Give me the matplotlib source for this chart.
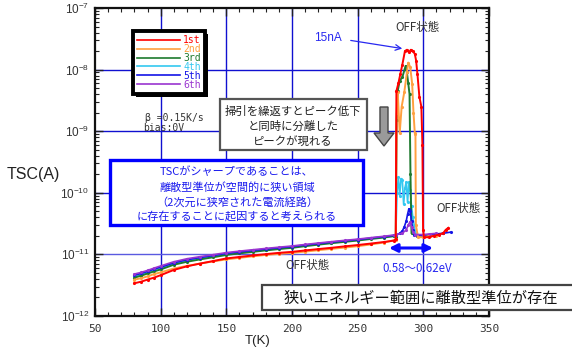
import numpy as np
import matplotlib
matplotlib.use("Agg")
import matplotlib.pyplot as plt
import matplotlib.patches as mpatches
from matplotlib.lines import Line2D

plt.rcParams['font.family'] = ['Liberation Sans', 'Noto Sans CJK JP', 'DejaVu Sans']
JP = ['Noto Sans CJK JP', 'DejaVu Sans']
MONO = ['DejaVu Sans Mono']

# ---- data (temperature in K, current in pA) ----
t_base = [80, 85, 90, 95, 100, 110, 120, 130, 140, 150, 160, 170, 180, 190,
          200, 210, 220, 230, 240, 250, 260, 270, 278]

base_1st = [3.4, 3.6, 3.9, 4.2, 4.6, 5.6, 6.4, 7.1, 7.8, 8.6, 9.1, 9.6, 10.1, 10.6,
            11.0, 11.6, 12.2, 12.8, 13.5, 14.2, 15.0, 15.9, 16.8]
base_2nd = [3.9, 4.1, 4.4, 4.8, 5.1, 5.9, 6.5, 7.1, 7.7, 8.3, 8.8, 9.3, 9.8, 10.2,
            10.6, 11.1, 11.7, 12.3, 12.9, 13.6, 14.5, 15.6, 17.0]
base_3rd = [4.2, 4.5, 4.9, 5.3, 5.7, 6.8, 7.6, 8.3, 9.0, 9.8, 10.4, 11.0, 11.6, 12.2,
            12.8, 13.6, 14.4, 15.2, 16.0, 16.8, 17.8, 18.8, 19.8]
base_4th = [4.4, 4.7, 5.1, 5.6, 6.0, 7.1, 8.0, 8.7, 9.4, 10.2, 10.8, 11.4, 12.0, 12.6,
            13.2, 14.0, 14.8, 15.6, 16.4, 17.2, 18.2, 19.2, 20.2]
base_5th = [4.6, 4.9, 5.3, 5.8, 6.2, 7.3, 8.2, 8.9, 9.6, 10.4, 11.0, 11.6, 12.2, 12.8,
            13.4, 14.2, 15.0, 15.8, 16.6, 17.4, 18.4, 19.4, 20.4]
base_6th = [4.8, 5.1, 5.5, 6.0, 6.5, 7.6, 8.5, 9.2, 9.9, 10.7, 11.3, 11.9, 12.5, 13.1,
            13.7, 14.5, 15.3, 16.1, 16.9, 17.7, 18.7, 19.7, 20.7]

peak_t_1st = [279, 279.5, 281, 282.5, 284, 286, 287.5, 289, 290.5, 292, 293.5, 294.5,
              295.5, 297, 298.5, 299.3, 299.8, 300.5, 304, 308, 312, 315, 317, 319]
peak_i_1st = [18, 4500, 6000, 8500, 12000, 20000, 21000, 19000, 21000, 20000, 18000, 14000,
              8500, 3600, 2500, 600, 25, 19, 19, 20, 21, 22, 25, 27]

peak_t_2nd = [279, 279.7, 280.5, 282, 283.5, 285.5, 287.5, 288.5, 290, 291.5, 292.5, 293.5,
              294, 294.3, 296, 300, 305, 310]
peak_i_2nd = [17, 2000, 4300, 930, 2500, 4300, 9000, 13000, 11000, 5900, 2000, 930,
              900, 30, 19, 19, 20, 20]

peak_t_3rd = [279, 279.7, 280.5, 282, 284, 286.5, 287.5, 288.5, 289.5, 290.2, 291, 295,
              300, 305, 310]
peak_i_3rd = [19.5, 1500, 4500, 6600, 7500, 11500, 9000, 6000, 4000, 200, 22, 20,
              20, 21, 21]

peak_t_4th = [279, 280, 281, 282, 283, 284, 285, 286, 287, 288, 289, 290, 291, 292, 293,
              294, 296, 300, 305, 310, 315]
peak_i_4th = [20, 100, 180, 90, 170, 160, 65, 120, 150, 70, 150, 110, 60, 40, 30,
              22, 20, 20, 21, 21, 22]

peak_t_5th = [279, 282, 284, 285.5, 287, 288, 289, 290, 291, 292, 293, 296, 300, 305,
              310, 315, 321]
peak_i_5th = [20.5, 22, 24, 28, 35, 45, 55, 50, 35, 25, 21, 20.5, 20.5, 21,
              21.5, 22, 23]

peak_t_6th = [279, 284, 287, 288.5, 290, 291, 292, 294, 300, 305, 310]
peak_i_6th = [21, 22, 25, 30, 34, 28, 23, 21, 21, 21.5, 22]

labels = ['1st', '2nd', '3rd', '4th', '5th', '6th']
colors = ['#ff0000', '#ffa040', '#1e7a2e', '#33c8f0', '#1414e6', '#9a35d0']

bases = [base_1st, base_2nd, base_3rd, base_4th, base_5th, base_6th]
peaks_t = [peak_t_1st, peak_t_2nd, peak_t_3rd, peak_t_4th, peak_t_5th, peak_t_6th]
peaks_i = [peak_i_1st, peak_i_2nd, peak_i_3rd, peak_i_4th, peak_i_5th, peak_i_6th]

# ---- figure ----
W, H = 572, 348
fig = plt.figure(figsize=(W / 100, H / 100), dpi=100)
ax = fig.add_axes([95 / W, 1 - 316 / H, 394 / W, 308 / H])


def fx(px):
    return px / W


def fy(py):
    return 1 - py / H


# grid first so it sits under the curves
for gx in [100, 150, 200, 250, 300]:
    ax.axvline(gx, color='#1010d0', lw=1.0, zorder=1)
for gy in [1e-8, 1e-9, 1e-10]:
    ax.axhline(gy, color='#1010d0', lw=1.0, zorder=1)
ax.axhline(1e-11, color='#5a5ae0', lw=1.0, zorder=1)

for k in range(6):
    t = list(t_base) + list(peaks_t[k])
    i = (np.array(list(bases[k]) + list(peaks_i[k])) * 1e-12)
    lw = 1.4 if k < 3 else 1.2
    ax.plot(t, i, color=colors[k], lw=lw, marker='.', ms=2.5, zorder=2 + (k if k >= 3 else 6 - k))

ax.set_yscale('log')
ax.set_xlim(50, 350)
ax.set_ylim(1e-12, 1e-7)
ax.set_xticks([50, 100, 150, 200, 250, 300, 350])
ax.set_xticks(np.arange(50, 351, 10), minor=True)
ax.tick_params(which='both', direction='in', top=True, right=True, colors='#222222',
               labelcolor='#333333')
ax.tick_params(which='major', length=6, width=1.0)
ax.tick_params(which='minor', length=3, width=0.8)
ax.tick_params(axis='x', labelsize=8, pad=6)
ax.tick_params(axis='y', labelsize=8.5, pad=4)
for lab in ax.get_xticklabels():
    lab.set_family(MONO)
for s in ax.spines.values():
    s.set_linewidth(1.6)
    s.set_color('#111111')

# legend (thick black frame with a small hard shadow)
handles = [Line2D([0], [0], color=c, lw=1.2) for c in colors]
leg = ax.legend(handles, labels, loc='upper left',
                bbox_to_anchor=((133 - 95) / 394, (316 - 31) / 308),
                prop={'family': MONO, 'size': 7}, labelcolor=colors, handlelength=4.4,
                handletextpad=0.3, labelspacing=-0.12, borderpad=0.45, borderaxespad=0,
                fancybox=False, framealpha=1, edgecolor='black')
leg.get_frame().set_linewidth(2.8)
leg.set_zorder(20)
fig.canvas.draw()
bb = leg.get_frame().get_window_extent().transformed(fig.transFigure.inverted())
ax.add_patch(mpatches.Rectangle((bb.x0 + fx(3), bb.y0 - 3 / H), bb.width, bb.height,
                                transform=fig.transFigure, facecolor='black',
                                edgecolor='none', zorder=19, clip_on=False))

fig.text(fx(145), fy(118), 'β =0.15K/s', family=MONO, fontsize=7, color='#333333', va='center')
fig.text(fx(143), fy(128), 'bias:0V', family=MONO, fontsize=7, color='#333333', va='center')

# gray note box
fig.patches.append(mpatches.Rectangle((fx(220), fy(150)), fx(367) - fx(220), fy(99) - fy(150),
                                      transform=fig.transFigure, facecolor='white',
                                      edgecolor='#555555', lw=1.6, zorder=5))
for line, py in zip(['掃引を繰返すとピーク低下', 'と同時に分離した', 'ピークが現れる'], [111, 126, 141]):
    fig.text(fx(293), fy(py), line, family=JP, fontsize=8.2, color='#222222',
             ha='center', va='center', zorder=6)

# gray down arrow
arrow_px = [(380, 107), (388, 107), (388, 133), (394, 133), (384, 146), (374, 133), (380, 133)]
fig.patches.append(mpatches.Polygon([(fx(a), fy(b)) for a, b in arrow_px], closed=True,
                                    transform=fig.transFigure, facecolor='#9a9a9a',
                                    edgecolor='#444444', lw=1.0, zorder=5))

# blue explanation box
fig.patches.append(mpatches.Rectangle((fx(110), fy(225)), fx(363) - fx(110), fy(160) - fy(225),
                                      transform=fig.transFigure, facecolor='white',
                                      edgecolor='#0000ff', lw=2.4, zorder=5))
blue_lines = ['TSCがシャープであることは、', '離散型準位が空間的に狭い領域',
              '（2次元に狭窄された電流経路）', 'に存在することに起因すると考えられる']
for line, py in zip(blue_lines, [172, 187, 202, 216]):
    fig.text(fx(237), fy(py), line, family=JP, fontsize=8, color='#1a1aee',
             ha='center', va='center', zorder=6)

# OFF labels
for px, py in [(417, 27), (459, 208), (308, 265)]:
    fig.text(fx(px), fy(py), 'OFF状態', family=JP, fontsize=8.3, color='#333333',
             ha='center', va='center')

# 15nA annotation
fig.text(fx(328), fy(38), '15nA', fontsize=8.5, color='#2828f0', ha='center', va='center')
ax.annotate('', xy=(fx(405), fy(49)), xytext=(fx(348), fy(40)),
            xycoords='figure fraction', textcoords='figure fraction',
            arrowprops=dict(arrowstyle='->', color='#2828f0', lw=0.9))

# energy range arrow
ax.annotate('', xy=(fx(433), fy(248)), xytext=(fx(389), fy(248)),
            xycoords='figure fraction', textcoords='figure fraction',
            arrowprops=dict(arrowstyle='<|-|>', color='#0a0aff', lw=2.2,
                            mutation_scale=12, shrinkA=0, shrinkB=0))
fig.text(fx(417), fy(269), '0.58～0.62eV', family=JP,
         fontsize=8.3, color='#2828f0', ha='center', va='center')

# bottom conclusion box
fig.patches.append(mpatches.Rectangle((fx(262), fy(310)), fx(585) - fx(262), fy(285) - fy(310),
                                      transform=fig.transFigure, facecolor='white',
                                      edgecolor='#444444', lw=1.6, zorder=5))
fig.text(fx(421), fy(298), '狭いエネルギー範囲に離散型準位が存在', family=JP, fontsize=11,
         color='#111111', ha='center', va='center', zorder=6)

# axis labels
fig.text(fx(7), fy(175), 'TSC(A)', fontsize=11.5, color='#222222', va='center')
fig.text(fx(258), fy(341), 'T(K)', fontsize=9.5, color='#222222', ha='center', va='center')

fig.savefig('out.png', dpi=100)
